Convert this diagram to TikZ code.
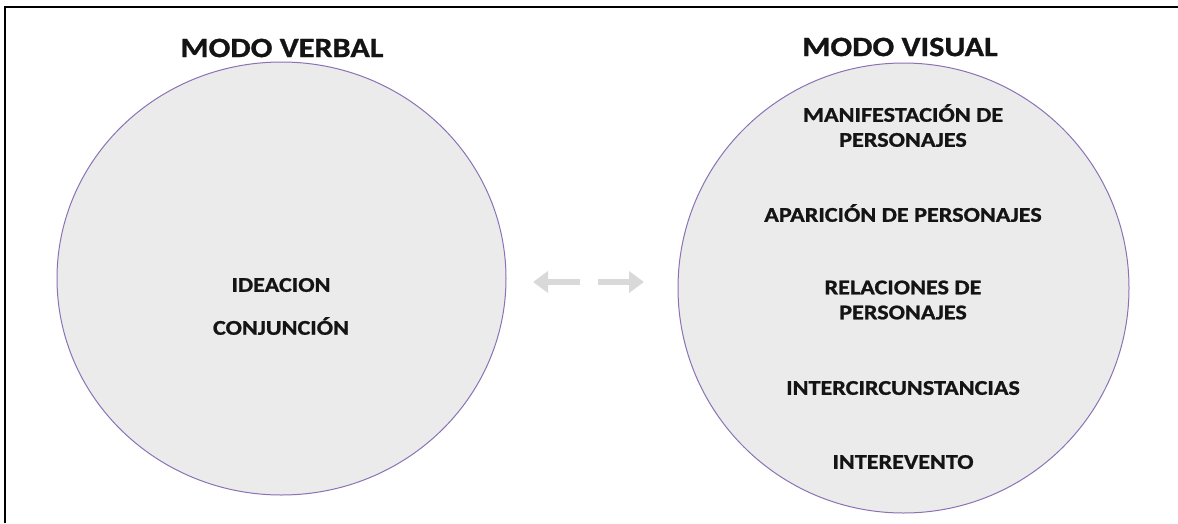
\documentclass[tikz,border=0pt]{standalone}
\usepackage{fontspec}
\setmainfont{Carlito}[FakeStretch=1.15, BoldFeatures={FakeBold=1}]
\usetikzlibrary{arrows.meta,positioning,shapes.geometric}
\definecolor{mdpurple}{HTML}{8A72B5}
\definecolor{mdgray}{HTML}{EBEBEB}
\definecolor{mdarrow}{HTML}{D9D9D9}
\definecolor{mdink}{HTML}{141414}
\tikzset{
  modeCircle/.style={ellipse, draw=mdpurple, fill=mdgray, line width=1pt, inner sep=0pt},
  headLabel/.style={font=\fontsize{28}{32}\selectfont\bfseries, text=mdink},
  itemLabel/.style={font=\fontsize{21}{25}\selectfont\bfseries, align=center, text=mdink},
  fadedArrow/.style={-{Triangle[length=15pt, width=21pt]}, line width=6.5pt, draw=mdarrow},
  frameLine/.style={line width=2pt, draw=black}
}

\begin{document}
\begin{tikzpicture}[x=1pt, y=-1pt]
  \useasboundingbox (0,0) rectangle (1178,523);
  \draw[frameLine] (5,523) -- (5,6.5) -- (1178,6.5);

  \node[modeCircle, minimum width=449pt, minimum height=433pt] (verbal) at (281.5,278.5) {};
  \node[modeCircle, minimum width=451pt, minimum height=450pt] (visual) at (903.5,288) {};

  \node[headLabel] (verbalHead) at (282,48) {MODO VERBAL};
  \node[headLabel] (visualHead) at (900,47) {MODO VISUAL};

  \node[itemLabel] (ideacion) at (281,285) {IDEACION};
  \node[itemLabel] (conjuncion) at (281,326) {CONJUNCIÓN};

  \node[itemLabel] (manifest) at (903,125.5) {MANIFESTACIÓN DE\\PERSONAJES};
  \node[itemLabel] (aparicion) at (903,213) {APARICIÓN DE PERSONAJES};
  \node[itemLabel] (relaciones) at (903,300) {RELACIONES DE\\PERSONAJES};
  \node[itemLabel] (intercirc) at (903,388) {INTERCIRCUNSTANCIAS};
  \node[itemLabel] (interevento) at (903,462) {INTEREVENTO};

  \coordinate (leftTail) at (580,282);
  \coordinate (leftTip) at (533,282);
  \coordinate (rightTail) at (598,282);
  \coordinate (rightTip) at (644,282);
  \draw[fadedArrow] (leftTail) -- (leftTip);
  \draw[fadedArrow] (rightTail) -- (rightTip);
\end{tikzpicture}
\end{document}
